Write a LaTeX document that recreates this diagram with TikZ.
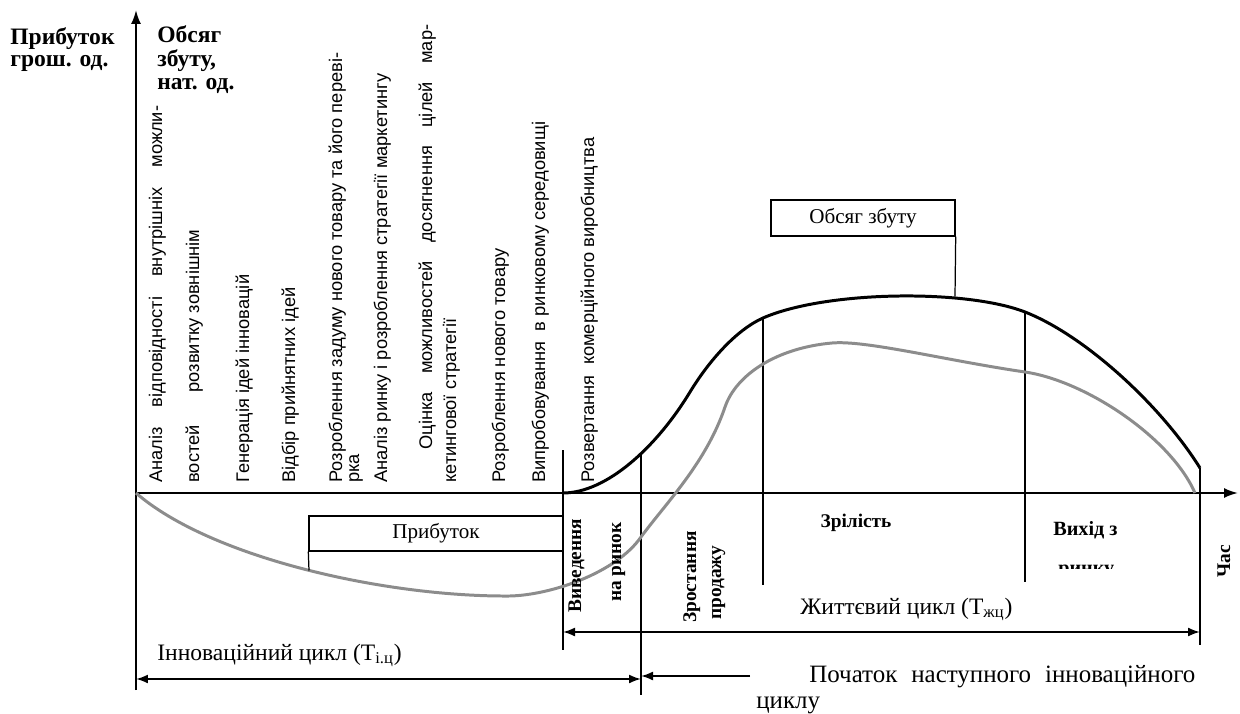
\documentclass[tikz,border=0pt]{standalone}
\usepackage{fontspec}
\setmainfont{Liberation Serif}
\setsansfont{Liberation Sans}
\usetikzlibrary{arrows.meta}

\definecolor{profitgray}{RGB}{140,140,140}

\tikzset{
    stage/.style={rotate=90, anchor=base west, inner sep=0pt,
        font=\sffamily\fontsize{10.4}{12}\selectfont},
    phase/.style={rotate=90, anchor=base west, inner sep=0pt,
        font=\bfseries\fontsize{11}{13}\selectfont},
    axlabel/.style={anchor=base west, inner sep=0pt,
        font=\bfseries\fontsize{13.4}{15}\selectfont},
    caption/.style={anchor=base west, inner sep=0pt,
        font=\fontsize{13.4}{15}\selectfont},
    infobox/.style={draw, line width=0.8pt, inner sep=0pt,
        font=\fontsize{12}{14}\selectfont},
    divider/.style={line width=0.7pt},
    span/.style={line width=1.1pt, {Latex[length=2.4mm,width=1.8mm]}-{Latex[length=2.4mm,width=1.8mm]}},
}

\begin{document}
\begin{tikzpicture}
    \useasboundingbox (-2.72,-4.4) rectangle (22.08,9.86);

    % Axes
    \draw[line width=1.1pt, -{Latex[length=2.8mm,width=2mm]}] (0,-3.94) -- (0,9.66);
    \draw[line width=1.1pt, -{Latex[length=2.8mm,width=2mm]}] (0,0) -- (22.04,0);

    \node[axlabel] (yl1) at (-2.52,8.96) {Прибуток};
    \node[axlabel] (yl2) at (-2.52,8.52) {грош. од.};
    \node[axlabel] (yr1) at (0.42,9.0) {Обсяг};
    \node[axlabel] (yr2) at (0.42,8.52) {збуту,};
    \node[axlabel] (yr3) at (0.42,8.06) {нат. од.};

    % Stages of the innovation cycle
    \node[stage] (s1) at (0.52,0.2) {\makebox[7.54cm][s]{Аналіз відповідності внутрішніх можли-}};
    \node[stage] (s2) at (1.26,0.2) {востей\hspace{0.66cm}розвитку зовнішнім};
    \node[stage] (s3) at (2.26,0.2) {Генерація ідей інновацій};
    \node[stage] (s4) at (3.18,0.2) {Відбір прийнятних ідей};
    \node[stage] (s5) at (4.12,0.2) {Розроблення задуму нового товару та його переві-};
    \node[stage] (s5b) at (4.46,0.2) {рка};
    \node[stage] (s6) at (5.02,0.2) {Аналіз ринку і розроблення стратегії маркетингу};
    \node[stage] (s7) at (5.92,0.86) {\makebox[8.5cm][s]{Оцінка можливостей досягнення цілей мар-}};
    \node[stage] (s7b) at (6.4,0.2) {кетингової стратегії};
    \node[stage] (s8) at (7.38,0.2) {Розроблення нового товару};
    \node[stage] (s9) at (8.18,0.2) {Випробовування\ \ в ринковому середовищі};
    \node[stage] (s10) at (9.16,0.2) {Розвертання\ \ комерційного виробництва};

    % Dividers
    \draw[divider] (8.54,0.86) -- (8.54,-3.14);
    \draw[divider] (10.1,0.8) -- (10.1,-4.04);
    \draw[divider] (12.54,3.5) -- (12.54,-1.84);
    \draw[divider] (17.78,3.62) -- (17.78,-1.78);
    \draw[divider] (21.28,0.5) -- (21.28,-3.04);

    % Profit curve
    \draw[profitgray, line width=1.7pt] (0,0)
        .. controls (1.5,-1.3) and (5.0,-2.08) .. (7.48,-2.06)
        .. controls (8.3,-2.04) and (9.6,-1.6) .. (10.1,-0.88)
        .. controls (10.6,-0.2) and (11.4,0.6) .. (11.78,1.72)
        .. controls (12.0,2.36) and (12.8,2.9) .. (13.92,3.0)
        .. controls (14.6,3.06) and (16.2,2.65) .. (17.78,2.42)
        .. controls (19.0,2.24) and (20.7,1.1) .. (21.18,0);

    % Sales curve
    \draw[line width=1.7pt] (8.54,0)
        .. controls (9.4,0) and (10.4,0.9) .. (11.08,2.02)
        .. controls (11.45,2.63) and (12.0,3.26) .. (12.54,3.5)
        .. controls (13.8,4.05) and (16.6,4.08) .. (17.78,3.62)
        .. controls (18.98,3.15) and (20.5,1.75) .. (21.28,0.5);

    % Boxes
    \node[infobox, minimum width=3.68cm, minimum height=0.72cm] (salesbox) at (14.54,5.5) {Обсяг збуту};
    \coordinate (salestop) at (16.38,3.93);
    \draw[divider] (salesbox.south east) -- (salestop);

    \node[infobox, minimum width=5.08cm, minimum height=0.7cm] (profitbox) at (6.0,-0.81) {Прибуток};
    \coordinate (profitlow) at (3.46,-1.55);
    \draw[divider] (profitbox.south west) -- (profitlow);

    % Phases of the life cycle
    \node[phase] (intro1) at (8.9,-2.4) {Виведення};
    \node[phase] (intro2) at (9.7,-2.18) {на ринок};
    \node[phase] (grow1) at (11.2,-2.6) {Зростання};
    \node[phase] (grow2) at (11.7,-2.54) {продажу};
    \node[axlabel, font=\bfseries\fontsize{11}{13}\selectfont, anchor=base] (mature) at (14.4,-0.68) {Зрілість};
    \node[axlabel, font=\bfseries\fontsize{11.5}{13}\selectfont] (exit1) at (18.34,-0.84) {Вихід з};
    \begin{scope}
        \clip (18,-1.5) rectangle (21,-1.2);
        \node[axlabel, font=\bfseries\fontsize{11.5}{13}\selectfont] (exit2) at (18.44,-1.62) {ринку};
    \end{scope}
    \node[phase] (time) at (21.88,-1.7) {Час};

    % Cycles
    \coordinate (lcA) at (8.54,-2.78);
    \coordinate (lcB) at (21.28,-2.78);
    \draw[span] (lcA) -- (lcB);
    \node[caption] (lctext) at (13.28,-2.42) {Життєвий цикл (Т\textsubscript{жц})};

    \coordinate (icA) at (0,-3.72);
    \coordinate (icB) at (10.1,-3.72);
    \draw[span] (icA) -- (icB);
    \node[caption] (ictext) at (0.42,-3.34) {Інноваційний цикл (Т\textsubscript{і.ц})};

    \coordinate (ncA) at (12.28,-3.66);
    \draw[line width=1.1pt, -{Latex[length=2.4mm,width=1.8mm]}] (ncA) -- (icB |- ncA);
    \node[caption, font=\fontsize{14.2}{16}\selectfont] (nctext) at (13.46,-3.78) {\makebox[7.72cm][s]{Початок наступного інноваційного}};
    \node[caption, font=\fontsize{14.2}{16}\selectfont] (nctext2) at (12.4,-4.3) {циклу};
\end{tikzpicture}
\end{document}
